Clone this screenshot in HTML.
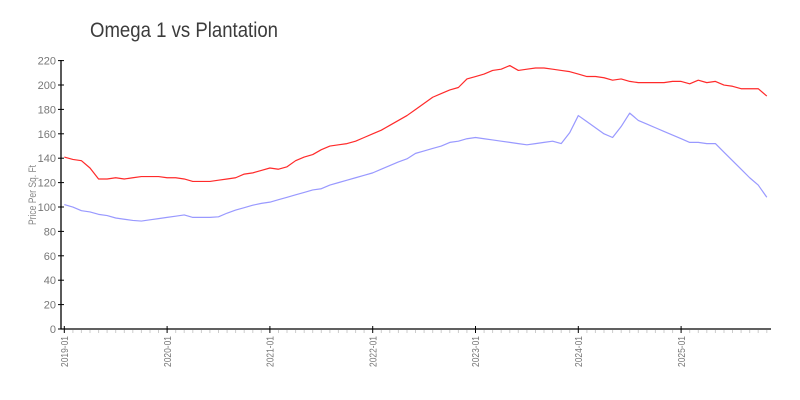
<!DOCTYPE html>
<html>
<head>
<meta charset="utf-8">
<style>
  html, body { margin: 0; padding: 0; background: #fff; }
  svg { display: block; }
  text { font-family: "Liberation Sans", "DejaVu Sans", sans-serif; }
</style>
</head>
<body>
<svg width="800" height="400" viewBox="0 0 800 400" xmlns="http://www.w3.org/2000/svg">
  <rect x="0" y="0" width="800" height="400" fill="#fff"/>
  <!-- Title -->
  <text x="90" y="37" font-size="21" fill="#3c3c3c" textLength="188" lengthAdjust="spacingAndGlyphs">Omega 1 vs Plantation</text>

  <!-- Y axis label -->
  <text transform="translate(36,195) rotate(-90)" text-anchor="middle" font-size="11" fill="#888" textLength="60" lengthAdjust="spacingAndGlyphs">Price Per Sq. Ft</text>

  <!-- Y tick labels -->
  <g font-size="11" fill="#777" text-anchor="end">
    <text x="56" y="333">0</text>
    <text x="56" y="308.6">20</text>
    <text x="56" y="284.2">40</text>
    <text x="56" y="259.8">60</text>
    <text x="56" y="235.4">80</text>
    <text x="56" y="211">100</text>
    <text x="56" y="186.6">120</text>
    <text x="56" y="162.2">140</text>
    <text x="56" y="137.8">160</text>
    <text x="56" y="113.4">180</text>
    <text x="56" y="89">200</text>
    <text x="56" y="64.6">220</text>
  </g>

  <!-- Y ticks -->
  <g stroke="#000" stroke-width="1">
    <line x1="58" x2="64" y1="329" y2="329"/>
    <line x1="58" x2="64" y1="304.6" y2="304.6"/>
    <line x1="58" x2="64" y1="280.2" y2="280.2"/>
    <line x1="58" x2="64" y1="255.8" y2="255.8"/>
    <line x1="58" x2="64" y1="231.4" y2="231.4"/>
    <line x1="58" x2="64" y1="207" y2="207"/>
    <line x1="58" x2="64" y1="182.6" y2="182.6"/>
    <line x1="58" x2="64" y1="158.2" y2="158.2"/>
    <line x1="58" x2="64" y1="133.8" y2="133.8"/>
    <line x1="58" x2="64" y1="109.4" y2="109.4"/>
    <line x1="58" x2="64" y1="85" y2="85"/>
    <line x1="58" x2="64" y1="60.6" y2="60.6"/>
  </g>

  <!-- Minor x ticks (monthly) -->
  <g stroke="#ccc" stroke-width="1">
    <line x1="72.9" x2="72.9" y1="330" y2="333"/><line x1="81.4" x2="81.4" y1="330" y2="333"/><line x1="90.0" x2="90.0" y1="330" y2="333"/><line x1="98.6" x2="98.6" y1="330" y2="333"/><line x1="107.1" x2="107.1" y1="330" y2="333"/><line x1="115.7" x2="115.7" y1="330" y2="333"/><line x1="124.3" x2="124.3" y1="330" y2="333"/><line x1="132.8" x2="132.8" y1="330" y2="333"/><line x1="141.4" x2="141.4" y1="330" y2="333"/><line x1="150.0" x2="150.0" y1="330" y2="333"/><line x1="158.5" x2="158.5" y1="330" y2="333"/>
    <line x1="175.7" x2="175.7" y1="330" y2="333"/><line x1="184.2" x2="184.2" y1="330" y2="333"/><line x1="192.8" x2="192.8" y1="330" y2="333"/><line x1="201.4" x2="201.4" y1="330" y2="333"/><line x1="209.9" x2="209.9" y1="330" y2="333"/><line x1="218.5" x2="218.5" y1="330" y2="333"/><line x1="227.1" x2="227.1" y1="330" y2="333"/><line x1="235.6" x2="235.6" y1="330" y2="333"/><line x1="244.2" x2="244.2" y1="330" y2="333"/><line x1="252.8" x2="252.8" y1="330" y2="333"/><line x1="261.3" x2="261.3" y1="330" y2="333"/>
    <line x1="278.5" x2="278.5" y1="330" y2="333"/><line x1="287.0" x2="287.0" y1="330" y2="333"/><line x1="295.6" x2="295.6" y1="330" y2="333"/><line x1="304.2" x2="304.2" y1="330" y2="333"/><line x1="312.7" x2="312.7" y1="330" y2="333"/><line x1="321.3" x2="321.3" y1="330" y2="333"/><line x1="329.9" x2="329.9" y1="330" y2="333"/><line x1="338.4" x2="338.4" y1="330" y2="333"/><line x1="347.0" x2="347.0" y1="330" y2="333"/><line x1="355.6" x2="355.6" y1="330" y2="333"/><line x1="364.1" x2="364.1" y1="330" y2="333"/>
    <line x1="381.3" x2="381.3" y1="330" y2="333"/><line x1="389.8" x2="389.8" y1="330" y2="333"/><line x1="398.4" x2="398.4" y1="330" y2="333"/><line x1="407.0" x2="407.0" y1="330" y2="333"/><line x1="415.5" x2="415.5" y1="330" y2="333"/><line x1="424.1" x2="424.1" y1="330" y2="333"/><line x1="432.7" x2="432.7" y1="330" y2="333"/><line x1="441.2" x2="441.2" y1="330" y2="333"/><line x1="449.8" x2="449.8" y1="330" y2="333"/><line x1="458.4" x2="458.4" y1="330" y2="333"/><line x1="466.9" x2="466.9" y1="330" y2="333"/>
    <line x1="484.1" x2="484.1" y1="330" y2="333"/><line x1="492.6" x2="492.6" y1="330" y2="333"/><line x1="501.2" x2="501.2" y1="330" y2="333"/><line x1="509.8" x2="509.8" y1="330" y2="333"/><line x1="518.3" x2="518.3" y1="330" y2="333"/><line x1="526.9" x2="526.9" y1="330" y2="333"/><line x1="535.5" x2="535.5" y1="330" y2="333"/><line x1="544.0" x2="544.0" y1="330" y2="333"/><line x1="552.6" x2="552.6" y1="330" y2="333"/><line x1="561.2" x2="561.2" y1="330" y2="333"/><line x1="569.7" x2="569.7" y1="330" y2="333"/>
    <line x1="586.9" x2="586.9" y1="330" y2="333"/><line x1="595.4" x2="595.4" y1="330" y2="333"/><line x1="604.0" x2="604.0" y1="330" y2="333"/><line x1="612.6" x2="612.6" y1="330" y2="333"/><line x1="621.2" x2="621.2" y1="330" y2="333"/><line x1="629.7" x2="629.7" y1="330" y2="333"/><line x1="638.3" x2="638.3" y1="330" y2="333"/><line x1="646.9" x2="646.9" y1="330" y2="333"/><line x1="655.4" x2="655.4" y1="330" y2="333"/><line x1="664.0" x2="664.0" y1="330" y2="333"/><line x1="672.6" x2="672.6" y1="330" y2="333"/>
    <line x1="689.7" x2="689.7" y1="330" y2="333"/><line x1="698.3" x2="698.3" y1="330" y2="333"/><line x1="706.8" x2="706.8" y1="330" y2="333"/><line x1="715.4" x2="715.4" y1="330" y2="333"/><line x1="724.0" x2="724.0" y1="330" y2="333"/><line x1="732.5" x2="732.5" y1="330" y2="333"/><line x1="741.1" x2="741.1" y1="330" y2="333"/><line x1="749.7" x2="749.7" y1="330" y2="333"/><line x1="758.2" x2="758.2" y1="330" y2="333"/><line x1="766.8" x2="766.8" y1="330" y2="333"/>
  </g>

  <!-- Axes -->
  <line x1="61" y1="60" x2="61" y2="329.5" stroke="#000" stroke-width="1.3"/>
  <line x1="60.5" y1="329" x2="771" y2="329" stroke="#000" stroke-width="1.3"/>

  <!-- Major x ticks -->
  <g stroke="#000" stroke-width="1">
    <line x1="64.3" x2="64.3" y1="326" y2="333"/>
    <line x1="167.1" x2="167.1" y1="326" y2="333"/>
    <line x1="269.9" x2="269.9" y1="326" y2="333"/>
    <line x1="372.7" x2="372.7" y1="326" y2="333"/>
    <line x1="475.5" x2="475.5" y1="326" y2="333"/>
    <line x1="578.3" x2="578.3" y1="326" y2="333"/>
    <line x1="681.1" x2="681.1" y1="326" y2="333"/>
  </g>

  <!-- X labels -->
  <g font-size="10" fill="#777" text-anchor="end">
    <text transform="translate(68,336) rotate(-90)" textLength="31" lengthAdjust="spacingAndGlyphs">2019-01</text>
    <text transform="translate(170.8,336) rotate(-90)" textLength="31" lengthAdjust="spacingAndGlyphs">2020-01</text>
    <text transform="translate(273.6,336) rotate(-90)" textLength="31" lengthAdjust="spacingAndGlyphs">2021-01</text>
    <text transform="translate(376.4,336) rotate(-90)" textLength="31" lengthAdjust="spacingAndGlyphs">2022-01</text>
    <text transform="translate(479.2,336) rotate(-90)" textLength="31" lengthAdjust="spacingAndGlyphs">2023-01</text>
    <text transform="translate(582,336) rotate(-90)" textLength="31" lengthAdjust="spacingAndGlyphs">2024-01</text>
    <text transform="translate(684.8,336) rotate(-90)" textLength="31" lengthAdjust="spacingAndGlyphs">2025-01</text>
  </g>

  <!-- Series -->
  <g transform="translate(64.3,329) scale(8.567,-1.2197)" fill="none">
    <polyline vector-effect="non-scaling-stroke" stroke="#ff2a2a" stroke-width="1.2" stroke-linejoin="round"
      points="0,141 1,139 2,138 3,132 4,123 5,123 6,124 7,123 8,124 9,125 10,125 11,125 12,124 13,124 14,123 15,121 16,121 17,121 18,122 19,123 20,124 21,127 22,128 23,130 24,132 25,131 26,133 27,138 28,141 29,143 30,147 31,150 32,151 33,152 34,154 35,157 36,160 37,163 38,167 39,171 40,175 41,180 42,185 43,190 44,193 45,196 46,198 47,205 48,207 49,209 50,212 51,213 52,216 53,212 54,213 55,214 56,214 57,213 58,212 59,211 60,209 61,207 62,207 63,206 64,204 65,205 66,203 67,202 68,202 69,202 70,202 71,203 72,203 73,201 74,204 75,202 76,203 77,200 78,199 79,197 80,197 81,197 82,191"/>
    <polyline vector-effect="non-scaling-stroke" stroke="#9999ff" stroke-width="1.2" stroke-linejoin="round"
      points="0,102 1,100 2,97 3,96 4,94 5,93 6,91 7,90 8,89 9,88.5 10,89.5 11,90.5 12,91.5 13,92.5 14,93.5 15,91.5 16,91.5 17,91.5 18,92 19,95 20,97.5 21,99.5 22,101.5 23,103 24,104 25,106 26,108 27,110 28,112 29,114 30,115 31,118 32,120 33,122 34,124 35,126 36,128 37,131 38,134 39,137 40,139.5 41,144 42,146 43,148 44,150 45,153 46,154 47,156 48,157 49,156 50,155 51,154 52,153 53,152 54,151 55,152 56,153 57,154 58,152 59,161 60,175 61,170 62,165 63,160 64,157 65,166 66,177 67,171 68,168 69,165 70,162 71,159 72,156 73,153 74,153 75,152 76,152 77,145 78,138 79,131 80,124 81,118 82,108"/>
  </g>
</svg>
</body>
</html>
